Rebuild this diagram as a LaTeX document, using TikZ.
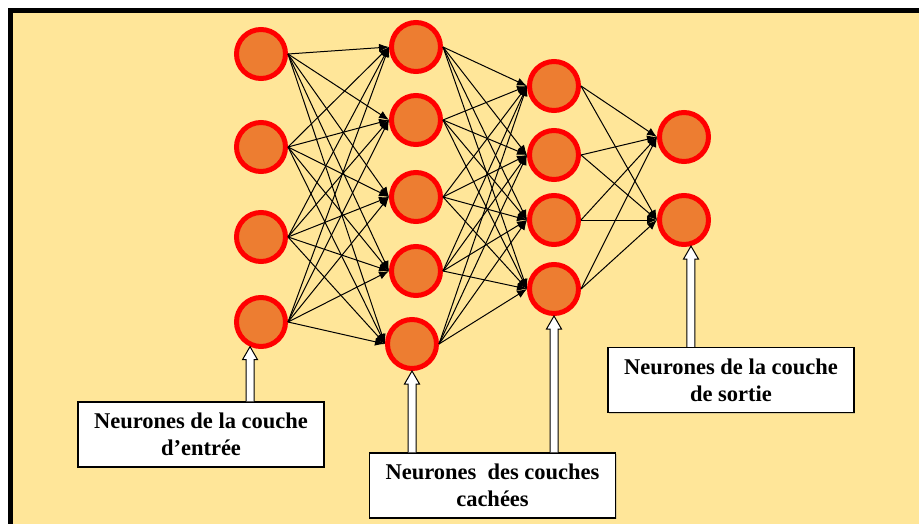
\documentclass[tikz,border=0pt]{standalone}
\usepackage{fontspec}
\setmainfont{Liberation Serif}
\usetikzlibrary{arrows.meta,shadows,calc}
\definecolor{fond}{HTML}{FFE699}
\definecolor{orangeN}{HTML}{ED7D31}
% fleche blanche epaisse : #1 boite de depart, #2 point d'arrivee
\newcommand{\flechebloc}[2]{%
  \draw[fleche] ($(#2 |- #1.north)+(-4,0)$) -- ($(#2)+(-4,13)$) -- ($(#2)+(-7.5,13)$) -- (#2)
    -- ($(#2)+(7.5,13)$) -- ($(#2)+(4,13)$) -- ($(#2 |- #1.north)+(4,0)$);}
\begin{document}
\begin{tikzpicture}[x=1pt,y=-1pt,
  neurone/.style={circle,draw=red,line width=5pt,fill=orangeN,minimum size=49pt,inner sep=0pt,
    drop shadow={shadow xshift=1.5pt,shadow yshift=-1.5pt,fill=black!70!orange,opacity=.35}},
  lien/.style={line width=1pt,-{Latex[length=10pt,width=8pt]}},
  boite/.style={draw,line width=1.2pt,fill=white,minimum width=246pt,minimum height=65pt,inner sep=0pt,
    align=center,font=\fontsize{22.5}{27}\selectfont\bfseries,
    drop shadow={shadow xshift=1pt,shadow yshift=-1pt,opacity=.3}},
  fleche/.style={draw,line width=1pt,fill=white}]
\useasboundingbox (0,0) rectangle (919,524);
\clip (0,0) rectangle (919,524);
\draw[line width=5pt,fill=fond] (10.8,10.8) rectangle (940,545);
% couches de neurones
\foreach \y [count=\i] in {54,147,237,322} \node[neurone] (n1\i) at (261,\y) {};
\foreach \x/\y [count=\i] in {416/47,416/120,416/197,416/271,412/344} \node[neurone] (n2\i) at (\x,\y) {};
\foreach \y [count=\i] in {86,155,220,289} \node[neurone] (n3\i) at (554,\y) {};
\foreach \y [count=\i] in {137,220} \node[neurone] (n4\i) at (684,\y) {};
% connexions
\foreach \i in {1,...,4} \foreach \j in {1,...,5} \draw[lien] (n1\i.east) -- (n2\j.west);
\foreach \i in {1,...,5} \foreach \j in {1,...,4} \draw[lien] (n2\i.east) -- (n3\j.west);
\foreach \i in {1,...,4} \foreach \j in {1,2} \draw[lien] (n3\i.east) -- (n4\j.west);
% legendes
\node[boite] (b1) at (201,434.5) {Neurones de la couche\\d’entrée};
\node[boite] (b2) at (492.5,485.5) {Neurones\ \ des couches\\cachées};
\node[boite] (b3) at (731,380) {Neurones de la couche\\de sortie};
\flechebloc{b1}{n14.246}
\flechebloc{b2}{n25.south}
\flechebloc{b2}{n34.south}
\flechebloc{b3}{n42.285}
\end{tikzpicture}
\end{document}
